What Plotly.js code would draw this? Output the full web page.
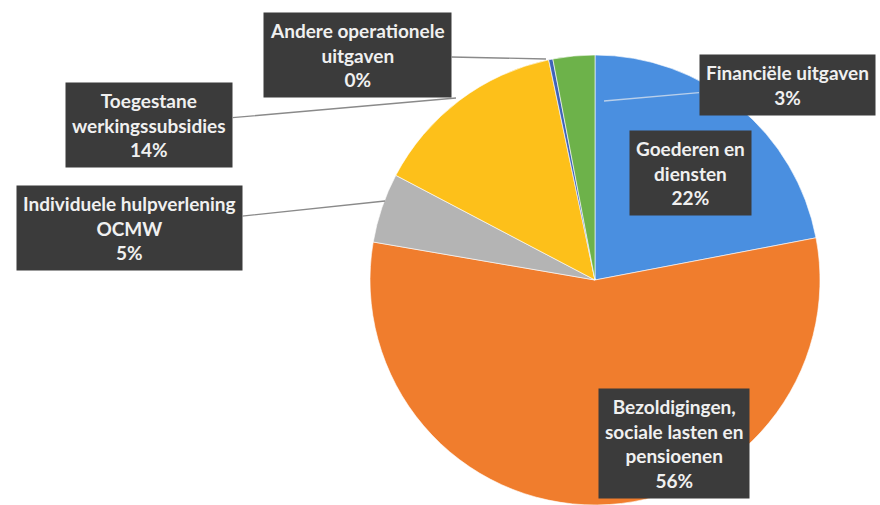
<!DOCTYPE html>
<html><head><meta charset="utf-8">
<script src="https://cdn.plot.ly/plotly-3.0.1.min.js"></script>
<style>html,body{margin:0;padding:0;background:#fff}#c{width:880px;height:505px}</style>
</head><body><div id="c"></div>
<script>
const categories = ["Goederen en diensten","Bezoldigingen, sociale lasten en pensioenen","Individuele hulpverlening OCMW","Toegestane werkingssubsidies","Andere operationele uitgaven","Financiële uitgaven"];
const labelText = ["Goederen en<br>diensten","Bezoldigingen,<br>sociale lasten en<br>pensioenen","Individuele hulpverlening<br>OCMW","Toegestane<br>werkingssubsidies","Andere operationele<br>uitgaven","Financiële uitgaven"];
const values = [22, 55.7, 5, 14, 0.3, 3];
const colors = ["#4a8fe0","#f07d2d","#b4b4b4","#fdc01a","#3f63b8","#6db24a"];

const W = 880, H = 505;
// label box centres (px) and optional leader-line targets (px)
const labelPos = [
  {cx:690, cy:173},
  {cx:674, cy:443},
  {cx:129, cy:228, tx:385, ty:201, lc:"#8a8a8a"},
  {cx:149, cy:125, tx:456, ty:98,  lc:"#8a8a8a"},
  {cx:357, cy:55,  tx:546, ty:59,  lc:"#8a8a8a"},
  {cx:787, cy:85,  tx:604, ty:101, lc:"#b9cfea"}
];
const total = values.reduce((a,b)=>a+b,0);
const annotations = categories.map((c,i)=>{
  const p = labelPos[i];
  const pct = Math.round(values[i]/total*100) + "%";
  const a = {
    text: labelText[i] + "<br>" + pct,
    xref:"paper", yref:"paper", xanchor:"center", yanchor:"middle",
    font:{family:"Lato, 'Open Sans', sans-serif", size:19, color:"#f0f0f0", weight:"bold"},
    bgcolor:"#3b3b3b", borderpad:6, align:"center"
  };
  if (p.tx !== undefined) {
    a.x = p.tx/W; a.y = 1 - p.ty/H;
    a.showarrow = true; a.arrowhead = 0; a.arrowwidth = 1.3; a.arrowcolor = p.lc;
    a.axref = "pixel"; a.ayref = "pixel";
    a.ax = p.cx - p.tx; a.ay = p.cy - p.ty;
  } else {
    a.x = p.cx/W; a.y = 1 - p.cy/H; a.showarrow = false;
  }
  return a;
});

Plotly.newPlot("c", [{
  type:"pie", labels:categories, values:values, sort:false, direction:"clockwise", rotation:0,
  marker:{colors:colors, line:{color:"rgba(255,255,255,0.6)", width:1}},
  textinfo:"none", hoverinfo:"none",
  domain:{x:[370/W, 820/W], y:[0, 1-55/H]}
}], {
  width:W, height:H, margin:{l:0,r:0,t:0,b:0}, showlegend:false,
  paper_bgcolor:"#ffffff", annotations:annotations
}, {displayModeBar:false, staticPlot:true});
</script></body></html>
